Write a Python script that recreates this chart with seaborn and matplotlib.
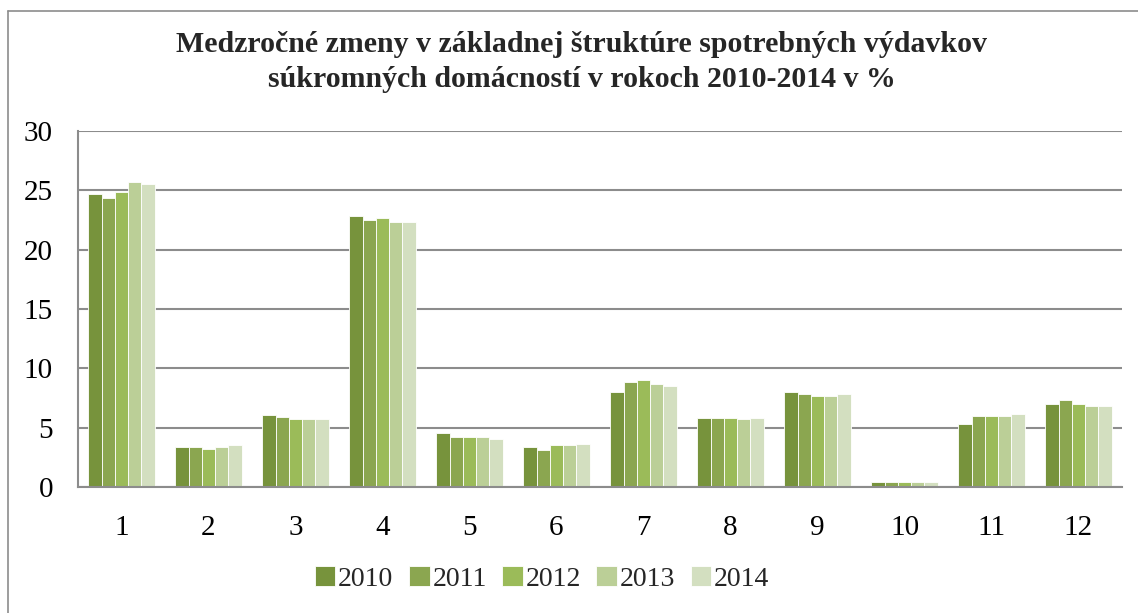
import pandas as pd
import matplotlib.pyplot as plt
import seaborn as sns
from matplotlib.lines import Line2D

# data
categories = ['1', '2', '3', '4', '5', '6', '7', '8', '9', '10', '11', '12']
years = ['2010', '2011', '2012', '2013', '2014']
v2010 = [24.7, 3.35, 6.05, 22.8, 4.55, 3.35, 8.0, 5.85, 8.0, 0.45, 5.35, 7.0]
v2011 = [24.35, 3.35, 5.9, 22.5, 4.2, 3.15, 8.85, 5.85, 7.85, 0.45, 6.0, 7.35]
v2012 = [24.85, 3.2, 5.7, 22.65, 4.2, 3.5, 9.0, 5.85, 7.7, 0.45, 6.0, 7.0]
v2013 = [25.7, 3.35, 5.7, 22.35, 4.2, 3.5, 8.7, 5.7, 7.7, 0.45, 6.0, 6.85]
v2014 = [25.55, 3.5, 5.7, 22.35, 4.05, 3.65, 8.5, 5.85, 7.85, 0.45, 6.15, 6.85]
colors = ['#77933C', '#8BA650', '#9BBB59', '#BBCF97', '#D3DFC0']

series = [v2010, v2011, v2012, v2013, v2014]
rows = []
for y, vals in zip(years, series):
    for c, v in zip(categories, vals):
        rows.append({'cat': c, 'year': y, 'val': v})
df = pd.DataFrame(rows)

sns.set_style('white')
plt.rcParams['font.family'] = ['Liberation Serif', 'DejaVu Serif']

fig = plt.figure(figsize=(11.38, 6.13), dpi=100)
fig.patch.set_linewidth(0)
ax = fig.add_axes([78 / 1138, 126 / 613, 1044 / 1138, 356 / 613])

sns.barplot(data=df, x='cat', y='val', hue='year', palette=colors, width=0.76,
            saturation=1, edgecolor='white', linewidth=0.6, ax=ax)

ax.set_ylim(0, 30)
ax.set_yticks([0, 5, 10, 15, 20, 25, 30])
ax.set_xlim(-0.5, 11.5)
ax.yaxis.grid(True, color='#8c8c8c', linewidth=1.5)
ax.set_axisbelow(True)
for s in ['top', 'right']:
    ax.spines[s].set_visible(False)
for s in ['left', 'bottom']:
    ax.spines[s].set_color('#8c8c8c')
    ax.spines[s].set_linewidth(1.5)
ax.tick_params(length=0, labelsize=21, colors='black')
ax.tick_params(axis='x', pad=20)
ax.tick_params(axis='y', pad=18)
ax.set_xlabel('')
ax.set_ylabel('')

ax.legend_.remove()
handles, labels = ax.get_legend_handles_labels()
fig.legend(handles[:5], labels[:5], loc='center', bbox_to_anchor=(542 / 1138, 1 - 579 / 613),
           ncol=5, frameon=False, fontsize=20, handlelength=0.75, handleheight=0.75,
           handletextpad=0.1, columnspacing=0.55)

fig.text(0.511, 1 - 62 / 613,
         'Medzročné zmeny v základnej štruktúre spotrebných výdavkov\n'
         'súkromných domácností v rokoch 2010-2014 v %',
         ha='center', va='center', fontsize=21.5, fontweight='bold', linespacing=1.35)

# outer chart frame, only left and top edges are inside the picture
fig.lines.append(Line2D([8 / 1138, 8 / 1138], [0, 1 - 11 / 613], transform=fig.transFigure,
                        color='#8c8c8c', linewidth=1.2))
fig.lines.append(Line2D([8 / 1138, 1], [1 - 11 / 613, 1 - 11 / 613], transform=fig.transFigure,
                        color='#8c8c8c', linewidth=1.2))

fig.savefig('out.png', dpi=100)
